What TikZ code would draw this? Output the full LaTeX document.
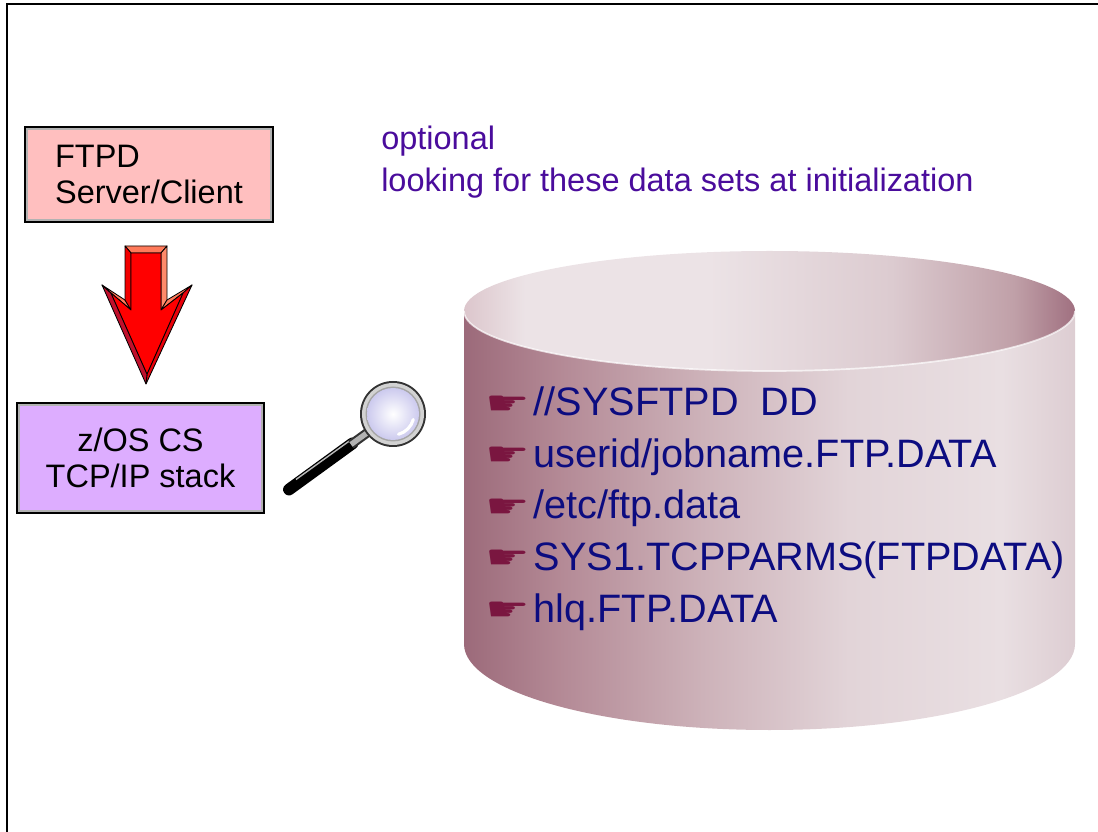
\documentclass[tikz,border=0pt]{standalone}
\usepackage{fontspec}
\usepackage{graphicx}
\setmainfont{Liberation Sans}
\newfontfamily\handfont{DejaVu Sans}
\usetikzlibrary{calc}

% palette
\definecolor{notecol}{HTML}{4A0C9C}
\definecolor{listcol}{HTML}{0C0C80}
\definecolor{handcol}{HTML}{7A1640}
\definecolor{ftpfill}{HTML}{FFBFBF}
\definecolor{stackfill}{HTML}{DDADFF}
\definecolor{arrfront}{HTML}{FF0000}
\definecolor{arrtop}{HTML}{FF7A5A}
\definecolor{arrside}{HTML}{FF8A6A}
\definecolor{arrlowr}{HTML}{E8000A}
\definecolor{arrlowl}{HTML}{C0102C}
\definecolor{arrleft}{HTML}{F20000}
% drum body, left to right
\definecolor{cbA}{HTML}{9C6A7A}
\definecolor{cbB}{HTML}{B48A96}
\definecolor{cbC}{HTML}{CDB2B9}
\definecolor{cbD}{HTML}{E2D4D8}
\definecolor{cbE}{HTML}{E9DFE2}
\definecolor{cbF}{HTML}{DDCDD2}
% drum lid, left to right
\definecolor{ctA}{HTML}{DCC6CC}
\definecolor{ctB}{HTML}{ECE3E6}
\definecolor{ctC}{HTML}{DCCBD0}
\definecolor{ctD}{HTML}{C0A0A8}
\definecolor{ctE}{HTML}{A07080}
\definecolor{lens}{HTML}{CCCAEE}

\pgfdeclarehorizontalshading{cylbody}{100bp}{color(0bp)=(cbA); color(25bp)=(cbA); color(33bp)=(cbB); color(44.5bp)=(cbC); color(56.5bp)=(cbD); color(69bp)=(cbE); color(75bp)=(cbF); color(100bp)=(cbF)}
\pgfdeclarehorizontalshading{cyltop}{100bp}{color(0bp)=(ctA); color(25bp)=(ctA); color(30bp)=(ctB); color(45bp)=(ctB); color(60bp)=(ctC); color(70bp)=(ctD); color(75bp)=(ctE); color(100bp)=(ctE)}

% pointing-hand bullet, stretched flat, followed by a fixed indent
\newcommand\handmark{\makebox[29.5pt][l]{\hspace*{-4.5pt}\raisebox{1.4pt}{\scalebox{1.35}[0.88]{\resizebox{23.5pt}{!}{\color{handcol}\handfont ☛}}}}}

\begin{document}
\begin{tikzpicture}[x=0.025cm,y=-0.025cm,
  frame/.style={draw=black,line width=1.42pt},
  procbox/.style={draw=black,line width=1.4pt,inner sep=0pt,
    font=\fontsize{23.1pt}{26pt}\selectfont,
    path picture={\draw[gray!60,line width=4pt]
      (path picture bounding box.south west) rectangle (path picture bounding box.north east);}},
  note/.style={anchor=base west,inner sep=0pt,text=notecol,font=\fontsize{23.1pt}{28pt}\selectfont},
  listitem/.style={anchor=base west,inner sep=0pt,text=listcol,font=\fontsize{28.2pt}{33pt}\selectfont},
  bevel/.style={draw=black,line width=0.6pt,line join=round}]

\useasboundingbox (0,0) rectangle (1098,832);

% page frame (left and top edges)
\draw[frame] (7,832) -- (7,4.5) -- (1098,4.5);

% boxes
\node[procbox,fill=ftpfill,minimum width=6.2cm,minimum height=2.375cm,align=left]
  (ftpd) at (149,174.5) {FTPD\\Server/Client};
\node[procbox,fill=stackfill,minimum width=6.175cm,minimum height=2.75cm,align=center]
  (stack) at (140.5,458) {z/OS CS\\TCP/IP stack};

% bevelled block arrow between the boxes
\coordinate (o1) at (125,246); \coordinate (o2) at (167,246);
\coordinate (o3) at (167,300); \coordinate (o4) at (192,285);
\coordinate (o5) at (146,384); \coordinate (o6) at (102,285);
\coordinate (o7) at (125,300);
\coordinate (i1) at (131,253); \coordinate (i2) at (161,253);
\coordinate (i3) at (161,310); \coordinate (i4) at (183,293);
\coordinate (i5) at (147,374); \coordinate (i6) at (111,293);
\coordinate (i7) at (131,310);
\filldraw[bevel,fill=arrtop]  (o1) -- (o2) -- (i2) -- (i1) -- cycle;
\filldraw[bevel,fill=arrside] (o2) -- (o3) -- (i3) -- (i2) -- cycle;
\filldraw[bevel,fill=arrtop]  (o3) -- (o4) -- (i4) -- (i3) -- cycle;
\filldraw[bevel,fill=arrlowr] (o4) -- (o5) -- (i5) -- (i4) -- cycle;
\filldraw[bevel,fill=arrlowl] (o5) -- (o6) -- (i6) -- (i5) -- cycle;
\filldraw[bevel,fill=arrtop]  (o6) -- (o7) -- (i7) -- (i6) -- cycle;
\filldraw[bevel,fill=arrleft] (o7) -- (o1) -- (i1) -- (i7) -- cycle;
\filldraw[bevel,fill=arrfront] (i1) -- (i2) -- (i3) -- (i4) -- (i5) -- (i6) -- (i7) -- cycle;

% magnifying glass
\coordinate (lensc) at (393,414);
\draw[black,line width=8.4pt,line cap=round] (352.5,443.4) -- (289,489.5);
\draw[gray!55,line width=1pt] (350,440.5) -- (296,479.5);
\draw[gray!40!black,line width=6.8pt] (368,432.2) -- (351,444.5);
\draw[gray!60,line width=3.8pt] (368,432.2) -- (351,444.5);
\fill[gray!40!black] (lensc) circle (33);
\fill[gray!35] (lensc) circle (31);
\fill[gray!70] (lensc) circle (27.5);
\shade[inner color=white,outer color=lens] (lensc) circle (26);
\draw[white,line width=2.2pt,line cap=round] ($(lensc)+(15:21)$) arc[start angle=15,end angle=75,radius=21];

% notes above the drum
\node[note] (note1) at (381,150) {optional};
\node[note] (note2) at (381,192) {looking for these data sets at initialization};

% data set drum
\shade[shading=cylbody] (464,311) -- (464,644)
  arc[start angle=180,end angle=0,x radius=305.5,y radius=86] -- (1075,311) -- cycle;
\shade[shading=cyltop] (769.5,311) ellipse[x radius=305.5,y radius=60];
\draw[white,opacity=0.7,line width=1.2pt] (464,311)
  arc[start angle=180,end angle=0,x radius=305.5,y radius=60];

% search order list
\node[listitem] (item1) at (492,416) {\handmark //SYSFTPD\ \ DD};
\node[listitem] (item2) at (492,467.5) {\handmark userid/jobname.FTP.DATA};
\node[listitem] (item3) at (492,519) {\handmark /etc/ftp.data};
\node[listitem] (item4) at (492,570.5) {\handmark SYS1.TCPPARMS(FTPDATA)};
\node[listitem] (item5) at (492,622) {\handmark hlq.FTP.DATA};
\end{tikzpicture}
\end{document}
